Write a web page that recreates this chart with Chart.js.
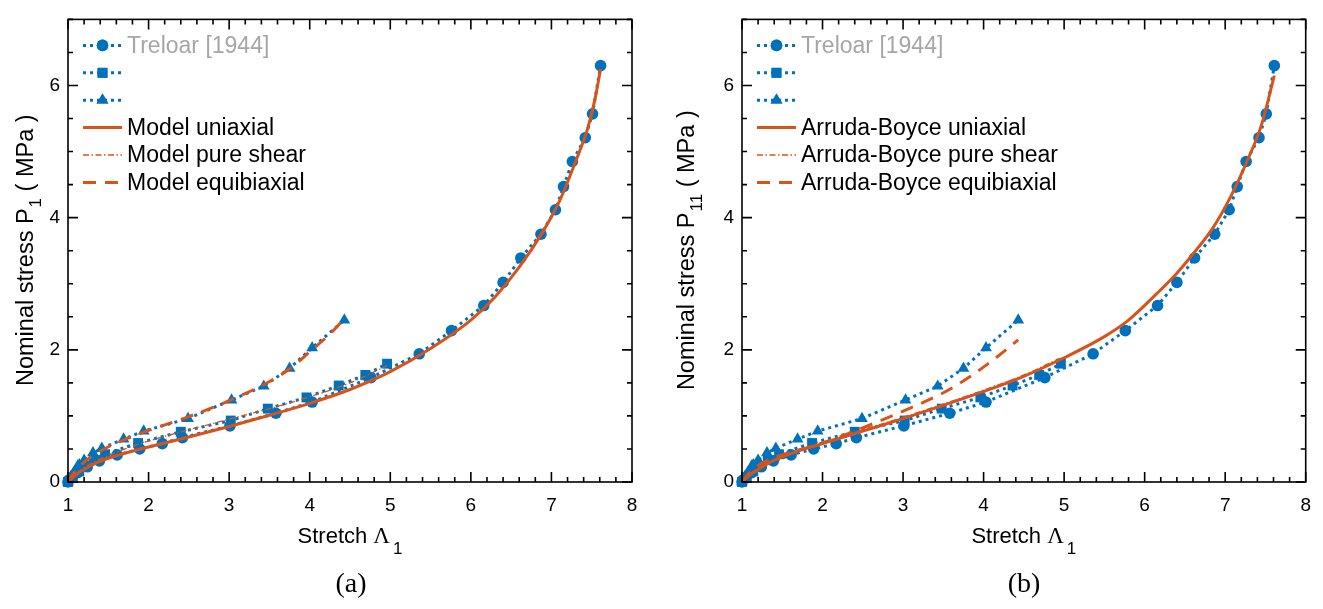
<!DOCTYPE html>
<html>
<head>
<meta charset="utf-8">
<script src="https://cdn.jsdelivr.net/npm/chart.js@4.4.1/dist/chart.umd.min.js"></script>
<style>
  body { margin: 0; background: #fff; width: 1323px; height: 609px; position: relative; overflow: hidden; }
  .panel { position: absolute; top: 0; height: 572px; }
  #pa { left: 0; width: 661px; }
  #pb { left: 661px; width: 662px; }
  .cap { position: absolute; top: 567px; width: 100px; text-align: center;
         font-family: 'Liberation Serif', 'Times New Roman', serif; font-size: 28px; color: #000; }
</style>
</head>
<body>
<div class="panel" id="pa"><canvas id="ca"></canvas></div>
<div class="panel" id="pb"><canvas id="cb"></canvas></div>
<div class="cap" style="left:301px">(a)</div>
<div class="cap" style="left:974px">(b)</div>
<script>
// Treloar [1944] experimental data
const treloarUniStretch = [1.0, 1.01, 1.12, 1.24, 1.39, 1.61, 1.89, 2.17, 2.42, 3.01, 3.58, 4.03, 4.76, 5.36, 5.76, 6.16, 6.40, 6.62, 6.87, 7.05, 7.15, 7.26, 7.42, 7.51, 7.61];
const treloarUniStress = [0, 0.03, 0.14, 0.23, 0.32, 0.41, 0.50, 0.58, 0.67, 0.85, 1.04, 1.21, 1.58, 1.94, 2.29, 2.67, 3.02, 3.39, 3.75, 4.12, 4.47, 4.85, 5.21, 5.57, 6.30];
const treloarShearStretch = [1.0, 1.06, 1.14, 1.21, 1.32, 1.46, 1.87, 2.40, 3.02, 3.48, 3.96, 4.36, 4.69, 4.96];
const treloarShearStress = [0, 0.07, 0.16, 0.24, 0.33, 0.42, 0.59, 0.76, 0.93, 1.11, 1.28, 1.46, 1.62, 1.79];
const treloarBiaxStretch = [1.0, 1.04, 1.08, 1.12, 1.14, 1.20, 1.31, 1.42, 1.69, 1.94, 2.49, 3.03, 3.43, 3.75, 4.03, 4.43];
const treloarBiaxStress = [0, 0.09, 0.16, 0.24, 0.26, 0.33, 0.44, 0.51, 0.65, 0.77, 0.96, 1.24, 1.45, 1.72, 2.03, 2.45];

// (a) model curves
const modelUniStretch = [1, 1.1, 1.2, 1.35, 1.5, 1.75, 2, 2.5, 3, 3.5, 4, 4.5, 5, 5.5, 6, 6.3, 6.6, 6.9, 7.1, 7.3, 7.45, 7.55, 7.61];
const modelUniStress = [0, 0.11, 0.19, 0.29, 0.36, 0.45, 0.53, 0.68, 0.84, 1.01, 1.19, 1.4, 1.67, 2.02, 2.45, 2.8, 3.25, 3.8, 4.25, 4.85, 5.35, 5.85, 6.25];
const modelShearStretch = [1, 1.1, 1.2, 1.35, 1.5, 1.75, 2, 2.5, 3, 3.5, 4, 4.5, 4.96];
const modelShearStress = [0, 0.13, 0.22, 0.32, 0.40, 0.52, 0.62, 0.79, 0.95, 1.11, 1.29, 1.5, 1.76];
const modelBiaxStretch = [1, 1.05, 1.1, 1.2, 1.3, 1.45, 1.7, 2, 2.5, 3, 3.5, 3.75, 4, 4.25, 4.43];
const modelBiaxStress = [0, 0.1, 0.18, 0.3, 0.39, 0.5, 0.64, 0.78, 0.99, 1.23, 1.52, 1.71, 1.97, 2.24, 2.47];

// (b) Arruda-Boyce curves
const abUniStretch = [1, 1.1, 1.2, 1.35, 1.5, 1.75, 2, 2.5, 3, 3.5, 4, 4.5, 5, 5.5, 5.8, 6.15, 6.4, 6.6, 6.85, 7.06, 7.27, 7.45, 7.61];
const abUniStress = [0, 0.11, 0.19, 0.3, 0.38, 0.49, 0.58, 0.77, 0.96, 1.16, 1.37, 1.6, 1.88, 2.2, 2.45, 2.85, 3.16, 3.45, 3.85, 4.3, 4.85, 5.4, 6.15];
const abShearStretch = [1, 1.1, 1.2, 1.35, 1.5, 1.75, 2, 2.5, 3, 3.5, 4, 4.5, 4.96];
const abShearStress = [0, 0.12, 0.21, 0.31, 0.39, 0.5, 0.6, 0.79, 0.98, 1.18, 1.39, 1.62, 1.88];
const abBiaxStretch = [1, 1.1, 1.2, 1.4, 1.75, 2, 2.5, 3.15, 3.5, 3.8, 4.1, 4.43];
const abBiaxStress = [0, 0.15, 0.25, 0.37, 0.5, 0.59, 0.82, 1.15, 1.35, 1.57, 1.83, 2.15];

const xTickVals = [1, 2, 3, 4, 5, 6, 7, 8];
const yTickVals = [0, 2, 4, 6];

const BLUE = '#0072BD';
const ORANGE = '#D95319';
const FONT = "'Liberation Sans', Arial, sans-serif";

function pts(xs, ys) {
  return xs.map((x, i) => ({ x: x, y: ys[i] }));
}

function dataSet(label, xs, ys, style, radius) {
  return {
    label: label,
    data: pts(xs, ys),
    showLine: true,
    borderColor: BLUE,
    backgroundColor: BLUE,
    borderWidth: 3,
    borderDash: [3, 4],
    pointStyle: style,
    pointRadius: radius,
    pointBorderWidth: 0,
    pointHoverRadius: radius,
    clip: false,
    order: 2,
  };
}

function modelSet(label, xs, ys, width, dash) {
  return {
    label: label,
    data: pts(xs, ys),
    showLine: true,
    borderColor: ORANGE,
    backgroundColor: ORANGE,
    borderWidth: width,
    borderDash: dash,
    cubicInterpolationMode: 'monotone',
    pointRadius: 0,
    pointHoverRadius: 0,
    clip: false,
    order: 1,
  };
}

// box with inward ticks, MATLAB style
const framePlugin = {
  id: 'frame',
  afterDatasetsDraw(chart) {
    const { ctx, chartArea: a, scales: { x, y } } = chart;
    ctx.save();
    ctx.strokeStyle = '#000';
    ctx.lineWidth = 1.6;
    ctx.beginPath();
    for (let i = 0; i <= 35; i++) {
      const px = x.getPixelForValue(1 + i * 0.2);
      const len = i % 5 === 0 ? 10 : 5;
      ctx.moveTo(px, a.bottom); ctx.lineTo(px, a.bottom - len);
      ctx.moveTo(px, a.top); ctx.lineTo(px, a.top + len);
    }
    for (let i = 0; i <= 14; i++) {
      const py = y.getPixelForValue(i * 0.5);
      const len = i % 4 === 0 ? 10 : 5;
      ctx.moveTo(a.left, py); ctx.lineTo(a.left + len, py);
      ctx.moveTo(a.right, py); ctx.lineTo(a.right - len, py);
    }
    ctx.stroke();
    ctx.strokeRect(a.left, a.top, a.right - a.left, a.bottom - a.top);
    ctx.restore();
  },
  afterDraw(chart, args, opts) {
    const { ctx, chartArea: a } = chart;
    ctx.save();
    ctx.fillStyle = '#000';
    ctx.textBaseline = 'alphabetic';

    // x title: Stretch Λ1
    const cx = (a.left + a.right) / 2;
    ctx.font = '22px ' + FONT;
    const w1 = ctx.measureText('Stretch ').width;
    ctx.font = "23px 'Liberation Serif', serif";
    const w2 = ctx.measureText('Λ').width;
    ctx.font = '17px ' + FONT;
    const w3 = ctx.measureText('1').width;
    let sx = cx - (w1 + w2 + 3 + w3) / 2;
    const by = a.bottom + 61;
    ctx.textAlign = 'left';
    ctx.font = '22px ' + FONT;
    ctx.fillText('Stretch ', sx, by);
    ctx.font = "23px 'Liberation Serif', serif";
    ctx.fillText('Λ', sx + w1, by);
    ctx.font = '17px ' + FONT;
    ctx.fillText('1', sx + w1 + w2 + 3, by + 11);

    // y title: Nominal stress P_sub ( MPa )
    const cy = (a.top + a.bottom) / 2;
    ctx.translate(33, cy);
    ctx.rotate(-Math.PI / 2);
    const big = '23.5px ' + FONT, small = '17px ' + FONT;
    ctx.font = big;
    const t1 = 'Nominal stress P';
    const t3 = ' ( MPa )';
    const u1 = ctx.measureText(t1).width;
    const u3 = ctx.measureText(t3).width;
    ctx.font = small;
    const u2 = ctx.measureText(opts.sub).width;
    let lx = -(u1 + u2 + u3) / 2;
    ctx.font = big;
    ctx.fillText(t1, lx, 0);
    ctx.font = small;
    ctx.fillText(opts.sub, lx + u1 + 1, 8);
    ctx.font = big;
    ctx.fillText(t3, lx + u1 + u2 + 1, 0);
    ctx.restore();

    // legend
    ctx.save();
    const ds = chart.data.datasets;
    const names = opts.legend;
    ctx.font = '23px ' + FONT;
    ctx.textBaseline = 'middle';
    ctx.textAlign = 'left';
    for (let i = 0; i < ds.length; i++) {
      const d = ds[i];
      const ry = a.top + 26 + i * 27.4;
      const x0 = a.left + 15, x1 = a.left + 54;
      ctx.strokeStyle = d.borderColor;
      ctx.lineWidth = d.borderWidth;
      ctx.setLineDash(d.borderDash || []);
      ctx.beginPath();
      ctx.moveTo(x0, ry); ctx.lineTo(x1, ry);
      ctx.stroke();
      ctx.setLineDash([]);
      if (d.pointRadius > 0) {
        ctx.fillStyle = d.backgroundColor;
        Chart.helpers.drawPoint(ctx, { pointStyle: d.pointStyle, radius: d.pointRadius, rotation: 0, borderWidth: 0 }, (x0 + x1) / 2, ry);
        ctx.fill();
      }
      if (names[i]) {
        ctx.fillStyle = i === 0 ? '#a6a6a6' : '#000';
        ctx.fillText(names[i], a.left + 59, ry + 1);
      }
    }
    ctx.restore();
  }
};

function makeChart(id, sets, yAxisWidth, rightPad, sub, legendNames) {
  return new Chart(document.getElementById(id), {
    type: 'scatter',
    data: { datasets: sets },
    options: {
      responsive: true,
      maintainAspectRatio: false,
      animation: false,
      events: [],
      layout: { padding: { top: 13.5, right: rightPad, left: 0, bottom: 0 } },
      plugins: {
        legend: { display: false },
        tooltip: { enabled: false },
        frame: { sub: sub, legend: legendNames },
      },
      scales: {
        x: {
          type: 'linear', min: 1, max: 8,
          afterBuildTicks: s => { s.ticks = xTickVals.map(v => ({ value: v })); },
          afterFit: s => { s.height = 90; },
          grid: { display: false, drawTicks: false },
          border: { display: false },
          ticks: { color: '#000', padding: 12, font: { size: 19, family: FONT }, maxRotation: 0 },
        },
        y: {
          type: 'linear', min: 0, max: 7,
          afterBuildTicks: s => { s.ticks = yTickVals.map(v => ({ value: v })); },
          afterFit: s => { s.width = yAxisWidth; },
          grid: { display: false, drawTicks: false },
          border: { display: false },
          ticks: { color: '#000', padding: 8, font: { size: 19, family: FONT } },
        },
      },
    },
    plugins: [framePlugin],
  });
}

const setsA = [
  dataSet('Treloar uniaxial', treloarUniStretch, treloarUniStress, 'circle', 5.8),
  dataSet('Treloar pure shear', treloarShearStretch, treloarShearStress, 'rect', 7),
  dataSet('Treloar equibiaxial', treloarBiaxStretch, treloarBiaxStress, 'triangle', 6.8),
  modelSet('Model uniaxial', modelUniStretch, modelUniStress, 3, []),
  modelSet('Model pure shear', modelShearStretch, modelShearStress, 1.3, [6, 2.5, 1.5, 2.5]),
  modelSet('Model equibiaxial', modelBiaxStretch, modelBiaxStress, 3, [13, 9]),
];
const setsB = [
  dataSet('Treloar uniaxial', treloarUniStretch, treloarUniStress, 'circle', 5.8),
  dataSet('Treloar pure shear', treloarShearStretch, treloarShearStress, 'rect', 7),
  dataSet('Treloar equibiaxial', treloarBiaxStretch, treloarBiaxStress, 'triangle', 6.8),
  modelSet('Arruda-Boyce uniaxial', abUniStretch, abUniStress, 3, []),
  modelSet('Arruda-Boyce pure shear', abShearStretch, abShearStress, 1.3, [6, 2.5, 1.5, 2.5]),
  modelSet('Arruda-Boyce equibiaxial', abBiaxStretch, abBiaxStress, 3, [13, 9]),
];

makeChart('ca', setsA, 68, 29, '1',
  ['Treloar [1944]', '', '', 'Model uniaxial', 'Model pure shear', 'Model equibiaxial']);
makeChart('cb', setsB, 81, 17, '11',
  ['Treloar [1944]', '', '', 'Arruda-Boyce uniaxial', 'Arruda-Boyce pure shear', 'Arruda-Boyce equibiaxial']);
</script>
</body>
</html>
